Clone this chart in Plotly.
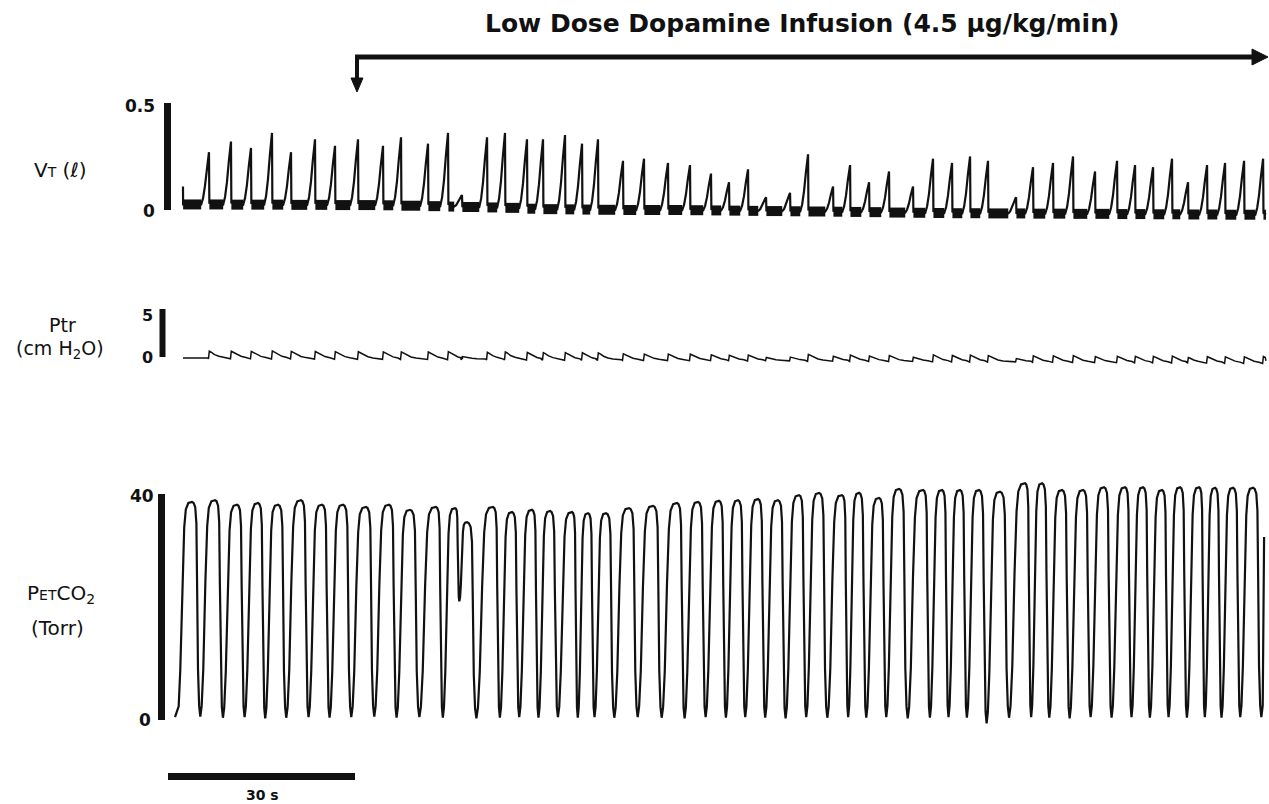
import plotly.graph_objects as go

W, H = 1269, 804

# ---------------- data ----------------
# time in seconds from the start of the PETCO2 record
vt_peak_t = [5.13, 8.66, 11.87, 15.24, 18.29, 22.14, 25.35, 29.04, 33.05, 35.94,
             40.27, 43.48, 45.72, 49.74, 52.62, 56.15, 58.72, 62.25, 64.98, 67.54,
             71.55, 74.92, 78.77, 82.30, 85.67, 88.56, 91.61, 94.50, 98.35, 101.24,
             105.25, 107.98, 111.03, 114.23, 118.08, 121.29, 124.34, 127.23, 130.11, 134.61,
             137.33, 140.54, 143.75, 147.28, 150.81, 153.70, 156.59, 159.63, 162.20, 165.25,
             168.14, 171.19, 174.24]
vt_peak = [0.27, 0.32, 0.29, 0.36, 0.27, 0.33, 0.30, 0.33, 0.30, 0.34,
           0.31, 0.36, 0.07, 0.34, 0.36, 0.33, 0.33, 0.35, 0.31, 0.33,
           0.23, 0.24, 0.22, 0.21, 0.17, 0.13, 0.19, 0.06, 0.08, 0.26,
           0.11, 0.21, 0.13, 0.18, 0.11, 0.24, 0.22, 0.25, 0.23, 0.06,
           0.20, 0.22, 0.25, 0.18, 0.23, 0.21, 0.20, 0.24, 0.13, 0.21,
           0.22, 0.23, 0.24]
vt_base = [0.026, 0.026, 0.025, 0.025, 0.025, 0.024, 0.024, 0.023, 0.023, 0.022,
           0.020, 0.018, 0.016, 0.014, 0.012, 0.010, 0.006, 0.004, 0.003, 0.002,
           0.001, 0.000, 0.000, 0.000, -0.001, -0.002, -0.003, -0.004, -0.005, -0.006,
           -0.007, -0.008, -0.009, -0.010, -0.012, -0.013, -0.014, -0.015, -0.015, -0.016,
           -0.016, -0.017, -0.017, -0.018, -0.018, -0.019, -0.019, -0.020, -0.020, -0.021,
           -0.021, -0.022, -0.022]
vt_start = (0.96, 0.11)
vt_end_t = 174.7

ptr_amp = [0.7, 0.7, 0.7, 0.75, 0.7, 0.7, 0.7, 0.7, 0.7, 0.7,
           0.7, 0.75, 0.25, 0.7, 0.75, 0.7, 0.7, 0.7, 0.7, 0.7,
           0.6, 0.6, 0.6, 0.6, 0.55, 0.5, 0.55, 0.3, 0.35, 0.65,
           0.45, 0.6, 0.5, 0.55, 0.4, 0.65, 0.6, 0.65, 0.6, 0.3,
           0.6, 0.6, 0.65, 0.55, 0.6, 0.6, 0.6, 0.65, 0.5, 0.6,
           0.6, 0.6, 0.65]
ptr_base = [-0.10, -0.10, -0.11, -0.12, -0.12, -0.13, -0.14, -0.15, -0.16, -0.17,
            -0.18, -0.19, -0.20, -0.21, -0.22, -0.23, -0.24, -0.25, -0.26, -0.27,
            -0.28, -0.29, -0.30, -0.31, -0.32, -0.33, -0.34, -0.35, -0.36, -0.37,
            -0.38, -0.39, -0.40, -0.41, -0.42, -0.43, -0.44, -0.45, -0.46, -0.47,
            -0.48, -0.49, -0.50, -0.51, -0.52, -0.53, -0.54, -0.55, -0.56, -0.57,
            -0.58, -0.59, -0.60]

co2_peak_t = [2.41, 6.10, 9.63, 13.00, 16.20, 19.89, 23.26, 26.63, 30.32, 34.01,
              37.38, 41.55, 44.60, 46.53, 50.70, 53.75, 56.95, 59.84, 63.37, 65.94,
              68.83, 72.52, 76.37, 80.22, 83.59, 86.96, 90.01, 93.21, 96.42, 99.79,
              103.00, 106.69, 109.42, 112.63, 115.84, 119.69, 122.73, 125.62, 128.67, 132.04,
              136.05, 138.78, 141.99, 145.36, 148.72, 152.09, 154.98, 158.03, 160.92, 163.97,
              166.53, 169.42, 172.63]
co2_peak = [38.6, 38.9, 38.1, 38.4, 38.1, 38.9, 38.1, 38.1, 37.7, 38.1,
            37.2, 37.7, 37.5, 35.0, 37.7, 36.8, 37.2, 37.0, 36.8, 36.6,
            36.6, 37.5, 37.9, 38.4, 38.6, 38.8, 38.9, 39.1, 38.9, 39.8,
            40.2, 39.8, 40.2, 39.3, 40.9, 40.7, 40.7, 40.7, 40.7, 40.4,
            41.9, 41.9, 40.7, 40.7, 41.2, 41.2, 41.2, 40.7, 41.2, 41.2,
            41.1, 41.1, 41.1]
co2_trough = [0.6, 0.4, 0.5, 0.3, 0.4, 0.5, 0.4, 0.5, 0.6, 0.4,
              0.5, 0.4, 21.0, 0.3, 0.4, 0.5, 0.4, 0.5, 0.4, 0.5,
              0.4, 0.5, 0.4, 0.3, 0.5, 0.4, 0.5, 0.4, 0.3, 0.5,
              0.4, 0.5, 0.4, 0.5, 0.3, 0.4, 0.5, 0.4, -0.6, 0.4,
              0.5, 0.4, 0.3, 0.5, 0.4, 0.5, 0.4, 0.5, 0.4, 0.5,
              0.4, 0.5, 0.5]
co2_start = (-0.32, 0.5)
co2_end = (174.4, 32.4)

# ---------------- geometry / styles ----------------
PX_PER_S = 187 / 30.0       # horizontal scale (30 s bar)
X0 = 177                    # pixel of t = 0
INK = "#111111"
FONT = "DejaVu Sans"


def xp(px):
    return px / W


def yp(py):
    return 1 - py / H


def t_of(px):
    return (px - X0) / PX_PER_S


def yrange(px0, v0, px1, v1):
    ppu = (px0 - px1) / (v1 - v0)
    top = v0 + px0 / ppu
    return [top - H / ppu, top]


# waveform shape templates (style of one cycle)
VT_SHAPE = [(-1.25, 0.0), (-0.95, 0.12), (-0.65, 0.35), (-0.35, 0.68), (-0.12, 0.9), (0.0, 1.0), (0.06, 0.03)]
PTR_SHAPE = [(-0.25, 0.0), (-0.08, -0.12), (0.05, 1.0), (0.35, 0.85), (0.9, 0.5), (1.6, 0.25), (2.4, 0.08)]
CO2_FALL = [(0.07, 0.995), (0.14, 0.975), (0.19, 0.9), (0.22, 0.62), (0.26, 0.22), (0.31, 0.05), (0.36, 0.0)]
CO2_RISE = [(0.42, 0.05), (0.49, 0.22), (0.58, 0.62), (0.66, 0.88), (0.73, 0.965), (0.84, 0.995)]

# ---- VT ----
vx, vy = [vt_start[0], vt_start[0] + 0.02], [vt_start[1], vt_base[0]]
bx, by = [vt_start[0] + 0.02], [vt_base[0]]
for i, (t, p) in enumerate(zip(vt_peak_t, vt_peak)):
    b = vt_base[i]
    bx += [t + VT_SHAPE[0][0], None]
    by += [b, None]
    for dt, f in VT_SHAPE:
        vx.append(t + dt)
        vy.append(b + f * (p - b))
    nb = vt_base[i + 1] if i + 1 < len(vt_base) else vt_base[-1]
    bx.append(t + VT_SHAPE[-1][0])
    by.append(nb)
vx.append(vt_end_t)
vy.append(vt_base[-1])
bx.append(vt_end_t)
by.append(vt_base[-1])

# ---- Ptr ----
px_, py_ = [vt_start[0]], [ptr_base[0]]
for i, t in enumerate(vt_peak_t):
    b, a = ptr_base[i], ptr_amp[i]
    for dt, f in PTR_SHAPE:
        if t + dt <= vt_end_t:
            px_.append(t + dt)
            py_.append(b + f * a)
px_.append(vt_end_t)
py_.append(ptr_base[-1] + 0.3 * ptr_amp[-1])

# ---- PETCO2 ----
cx, cy = [co2_start[0]], [co2_start[1]]
period0 = co2_peak_t[1] - co2_peak_t[0]
prev_t = co2_peak_t[0] - period0
for f, g in CO2_RISE:
    tt = prev_t + f * period0
    if tt > co2_start[0]:
        cx.append(tt)
        cy.append(co2_start[1] + g * (co2_peak[0] - co2_start[1]))
n = len(co2_peak_t)
for i in range(n):
    t, P, T = co2_peak_t[i], co2_peak[i], co2_trough[i]
    cx.append(t)
    cy.append(P)
    if i + 1 < n:
        t2, P2 = co2_peak_t[i + 1], co2_peak[i + 1]
    else:
        t2, P2 = t + period0, P
    d = t2 - t
    for f, g in CO2_FALL:
        if t + f * d < co2_end[0]:
            cx.append(t + f * d)
            cy.append(T + g * (P - T))
    for f, g in CO2_RISE:
        if t + f * d < co2_end[0]:
            cx.append(t + f * d)
            cy.append(T + g * (P2 - T))
cx.append(co2_end[0])
cy.append(co2_end[1])

fig = go.Figure()
fig.add_trace(go.Scatter(x=bx, y=by, mode="lines", line=dict(color=INK, width=10),
                         yaxis="y", hoverinfo="skip", connectgaps=False))
fig.add_trace(go.Scatter(x=vx, y=vy, mode="lines", line=dict(color=INK, width=2.2),
                         yaxis="y", hoverinfo="skip"))
fig.add_trace(go.Scatter(x=px_, y=py_, mode="lines", line=dict(color=INK, width=1.5),
                         yaxis="y2", hoverinfo="skip"))
fig.add_trace(go.Scatter(x=cx, y=cy, mode="lines", line=dict(color=INK, width=2.2),
                         yaxis="y3", hoverinfo="skip"))

shapes = []
# vertical calibration bars
shapes.append(dict(type="line", xref="x", yref="y", x0=t_of(167.5), x1=t_of(167.5), y0=0, y1=0.5,
                   line=dict(color=INK, width=7)))
shapes.append(dict(type="line", xref="x", yref="y2", x0=t_of(162.5), x1=t_of(162.5), y0=0, y1=5,
                   line=dict(color=INK, width=6)))
shapes.append(dict(type="line", xref="x", yref="y3", x0=t_of(161.5), x1=t_of(161.5), y0=0, y1=40,
                   line=dict(color=INK, width=7)))
# 30 s time bar
shapes.append(dict(type="line", xref="x", yref="paper", x0=t_of(168), x1=t_of(168) + 30,
                   y0=yp(776.5), y1=yp(776.5), line=dict(color=INK, width=7)))
# infusion arrow
shapes.append(dict(type="line", xref="paper", yref="paper", x0=xp(355), x1=xp(1255),
                   y0=yp(57), y1=yp(57), line=dict(color=INK, width=5)))
shapes.append(dict(type="path", xref="paper", yref="paper",
                   path=f"M {xp(1252)} {yp(49)} L {xp(1268)} {yp(57)} L {xp(1252)} {yp(65)} Z",
                   fillcolor=INK, line=dict(color=INK, width=1)))
shapes.append(dict(type="line", xref="paper", yref="paper", x0=xp(357), x1=xp(357),
                   y0=yp(55), y1=yp(80), line=dict(color=INK, width=4)))
shapes.append(dict(type="path", xref="paper", yref="paper",
                   path=f"M {xp(351)} {yp(78)} L {xp(363)} {yp(78)} L {xp(357)} {yp(92)} Z",
                   fillcolor=INK, line=dict(color=INK, width=1)))

ann = []


def label(text, x, y, size, anchor="center", bold=False):
    t = f"<b>{text}</b>" if bold else text
    ann.append(dict(text=t, x=xp(x), y=yp(y), xref="paper", yref="paper", showarrow=False,
                    xanchor=anchor, yanchor="middle", font=dict(family=FONT, size=size, color=INK)))


label("Low Dose Dopamine Infusion (4.5 μg/kg/min)", 802, 24, 25, bold=True)
label("V<span style='font-size:14px'>T</span> (<i>ℓ</i>)", 60, 170, 20)
label("Ptr", 62, 325, 19)
label("(cm H<sub>2</sub>O)", 60, 350, 19)
label("P<span style='font-size:14px'>ET</span>CO<sub>2</sub>", 61, 594, 20)
label("(Torr)", 58, 628, 20)
label("0.5", 157, 106, 17, anchor="right", bold=True)
label("0", 157, 211, 17, anchor="right", bold=True)
label("5", 155, 315, 16, anchor="right", bold=True)
label("0", 155, 357, 16, anchor="right", bold=True)
label("40", 156, 496, 17, anchor="right", bold=True)
label("0", 153, 720, 17, anchor="right", bold=True)
label("30 s", 262, 795, 14, bold=True)

fig.update_layout(
    width=W, height=H, margin=dict(l=0, r=0, t=0, b=0),
    paper_bgcolor="white", plot_bgcolor="white", showlegend=False,
    xaxis=dict(visible=False, range=[t_of(0), t_of(W)], fixedrange=True),
    yaxis=dict(visible=False, range=yrange(210, 0, 103, 0.5), fixedrange=True),
    yaxis2=dict(visible=False, range=yrange(357, 0, 309, 5), overlaying="y", fixedrange=True),
    yaxis3=dict(visible=False, range=yrange(720, 0, 494, 40), overlaying="y", fixedrange=True),
    shapes=shapes, annotations=ann,
)

fig.write_html("out.html", config={"displayModeBar": False},
               post_script="document.body.style.margin='0px';document.body.style.overflow='hidden';")
